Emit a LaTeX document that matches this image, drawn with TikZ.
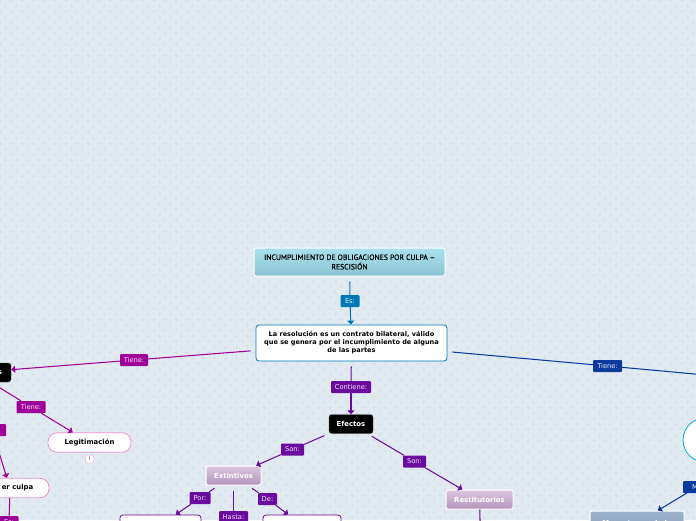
\documentclass[tikz,border=0pt]{standalone}
\usepackage{fontspec}
\setmainfont{DejaVu Sans}
\newfontfamily\titlefont[FakeBold=0.35]{PT Sans}
\usetikzlibrary{arrows.meta}
\definecolor{bgc}{HTML}{E2EAF1}
\definecolor{plusc}{HTML}{D6E0E8}
\definecolor{esc}{HTML}{0078B8}
\definecolor{pinkc}{HTML}{A0009A}
\definecolor{purc}{HTML}{6A0A9E}
\definecolor{bluec}{HTML}{0A3A9E}
\definecolor{softpink}{HTML}{F090D0}
\definecolor{titletop}{HTML}{A9E2EC}
\definecolor{titlebot}{HTML}{8CC3D2}
\definecolor{liltop}{HTML}{DCC6DC}
\definecolor{lilbot}{HTML}{B296BC}
\definecolor{greytop}{HTML}{9DB2CA}
\definecolor{greybot}{HTML}{8AA0BC}
\tikzset{
  x=1pt,y=-1pt,
  base/.style={font=\fontsize{6.9}{8}\selectfont\bfseries,align=center,inner sep=0pt},
  lab/.style={fill=#1,draw=none,rounded corners=1pt,text=white!90!#1,font=\fontsize{6.7}{7}\selectfont,inner sep=0pt,minimum height=12pt},
  conn/.style={draw=#1,line width=1.05pt},
  tip/.style={draw=#1,line width=1.05pt,-{Triangle[length=4pt,width=7pt]}},
  gap/.style={shorten <=5pt},
  darkbox/.style={base,fill=black,text=white,draw=black!60,rounded corners=2.5pt,minimum height=19pt},
  softbox/.style={base,fill=white,draw=softpink,line width=0.8pt,rounded corners=9pt,minimum height=19.5pt},
  frame/.style={base,fill=white,draw=#1,line width=0.8pt,rounded corners=3pt,minimum height=20pt},
  shadebox/.style 2 args={base,top color=#1,bottom color=#2,draw=white,line width=1pt,rounded corners=2pt,text=white}
}
\begin{document}
\begin{tikzpicture}
\useasboundingbox (0,0) rectangle (696,520);
\clip (0,0) rectangle (696,520);
\fill[bgc] (0,0) rectangle (696,520);
\foreach \k in {0,...,47}{
  \pgfmathsetmacro{\yy}{0.5+5.5*2*\k}
  \foreach \j in {0,...,63}{
    \pgfmathsetmacro{\xx}{11*\j}
    \draw[plusc,line width=0.4pt] (\xx-1.7,\yy) -- (\xx+1.7,\yy) (\xx,\yy-1.7) -- (\xx,\yy+1.7);
    \draw[plusc,line width=0.4pt] (\xx+3.8,\yy+5.5) -- (\xx+7.2,\yy+5.5) (\xx+5.5,\yy+3.8) -- (\xx+5.5,\yy+7.2);
  }
}
% main nodes
\node[shadebox={titletop}{titlebot},minimum width=191pt,minimum height=28pt,text=black,font=\titlefont\fontsize{7.7}{9.5}\selectfont] (title) at (349.5,262) {INCUMPLIMIENTO DE OBLIGACIONES POR CULPA –\\RESCISIÓN};
\node[frame=esc,minimum width=191pt,minimum height=36pt,font=\fontsize{6.55}{8}\selectfont\bfseries] (resol) at (351.5,343) {La resolución es un contrato bilateral, válido\\que se genera por el incumplimiento de alguna\\de las partes};
\node[darkbox,minimum width=44pt] (efectos) at (351,424) {Efectos};
\node[darkbox,minimum width=72pt] (requis) at (-25,372.5) {\hspace*{50pt}s};
\node[softbox,minimum width=83pt] (legit) at (89.5,442.5) {Legitimación};
\node[softbox,minimum width=78pt] (culpa) at (10,488) {\hspace*{15pt}er culpa};
\node[base,fill=white,draw=softpink!70,line width=0.5pt,rounded corners=1.5pt,minimum size=8pt,font=\fontsize{4.5}{5}\selectfont] (bang) at (89.5,459) {!};
\node[shadebox={liltop}{lilbot},minimum width=55pt,minimum height=19pt] (extin) at (233.5,475.5) {Extintivos};
\node[shadebox={liltop}{lilbot},minimum width=67pt,minimum height=19pt] (restit) at (479.5,499.5) {Restitutorios};
\node[frame=purc,minimum width=81pt] (porbox) at (160.5,525) {};
\node[frame=purc,minimum width=78pt] (debox) at (302,525) {};
\node[shadebox={greytop}{greybot},minimum width=94pt,minimum height=24pt] (meca) at (637,523) {Mecanismos de la};
\node[circle,fill=white,draw=esc!60!cyan,line width=0.8pt,minimum size=44pt,inner sep=0pt] (circ) at (705,440) {};
\coordinate (farright) at (760,380);
\coordinate (hastaend) at (233.5,560);
\coordinate (restend) at (481,560);
\coordinate (culpaend) at (9,560);
% labels
\node[lab=esc,minimum width=19pt] (les) at (350,301) {Es:};
\node[lab=pinkc,minimum width=28pt] (lt1) at (134,360) {Tiene:};
\node[lab=pinkc,minimum width=29pt] (lt2) at (31,407) {Tiene:};
\node[lab=pinkc,minimum width=28pt] (lt3) at (-8,430) {Es:};
\node[lab=pinkc,minimum width=19pt] (lt4) at (9,522) {Es:};
\node[lab=bluec,minimum width=29pt] (lt5) at (607.5,366) {Tiene:};
\node[lab=bluec,minimum width=28pt] (lme) at (697,487) {Me};
\node[lab=purc,minimum width=40pt] (lcon) at (351,387) {Contiene:};
\node[lab=purc,minimum width=23pt] (lso1) at (292.5,449.5) {Son:};
\node[lab=purc,minimum width=23pt] (lso2) at (414.5,461.5) {Son:};
\node[lab=purc,minimum width=21pt] (lpor) at (200,498) {Por:};
\node[lab=purc,minimum width=29pt] (lhas) at (233.5,517) {Hasta:};
\node[lab=purc,minimum width=19pt] (lde) at (267.5,499) {De:};
% connectors
\draw[conn=esc,gap] (title) -- (les);
\draw[tip=esc] (les) -- (resol);
\draw[conn=pinkc,gap] (resol) -- (lt1);
\draw[tip=pinkc] (lt1) -- (requis);
\draw[conn=pinkc,gap] (requis) -- (lt2);
\draw[tip=pinkc] (lt2) -- (legit);
\draw[conn=pinkc,gap] (requis) -- (lt3);
\draw[tip=pinkc] (lt3) -- (culpa);
\draw[conn=pinkc] (culpa) -- (lt4);
\draw[conn=pinkc] (lt4) -- (culpaend);
\draw[conn=bluec,gap] (resol) -- (lt5);
\draw[conn=bluec] (lt5) -- (farright);
\draw[conn=bluec] (circ) -- (lme);
\draw[tip=bluec] (lme) -- (meca);
\draw[conn=purc,gap] (resol) -- (lcon);
\draw[tip=purc] (lcon) -- (efectos);
\draw[conn=purc,gap] (efectos) -- (lso1);
\draw[tip=purc] (lso1) -- (extin);
\draw[conn=purc,gap] (efectos) -- (lso2);
\draw[tip=purc] (lso2) -- (restit);
\draw[conn=purc,gap] (extin) -- (lpor);
\draw[tip=purc] (lpor) -- (porbox);
\draw[conn=purc,gap] (extin) -- (lhas);
\draw[conn=purc] (lhas) -- (hastaend);
\draw[conn=purc,gap] (extin) -- (lde);
\draw[tip=purc] (lde) -- (debox);
\draw[conn=purc] (restit) -- (restend);
\end{tikzpicture}
\end{document}
